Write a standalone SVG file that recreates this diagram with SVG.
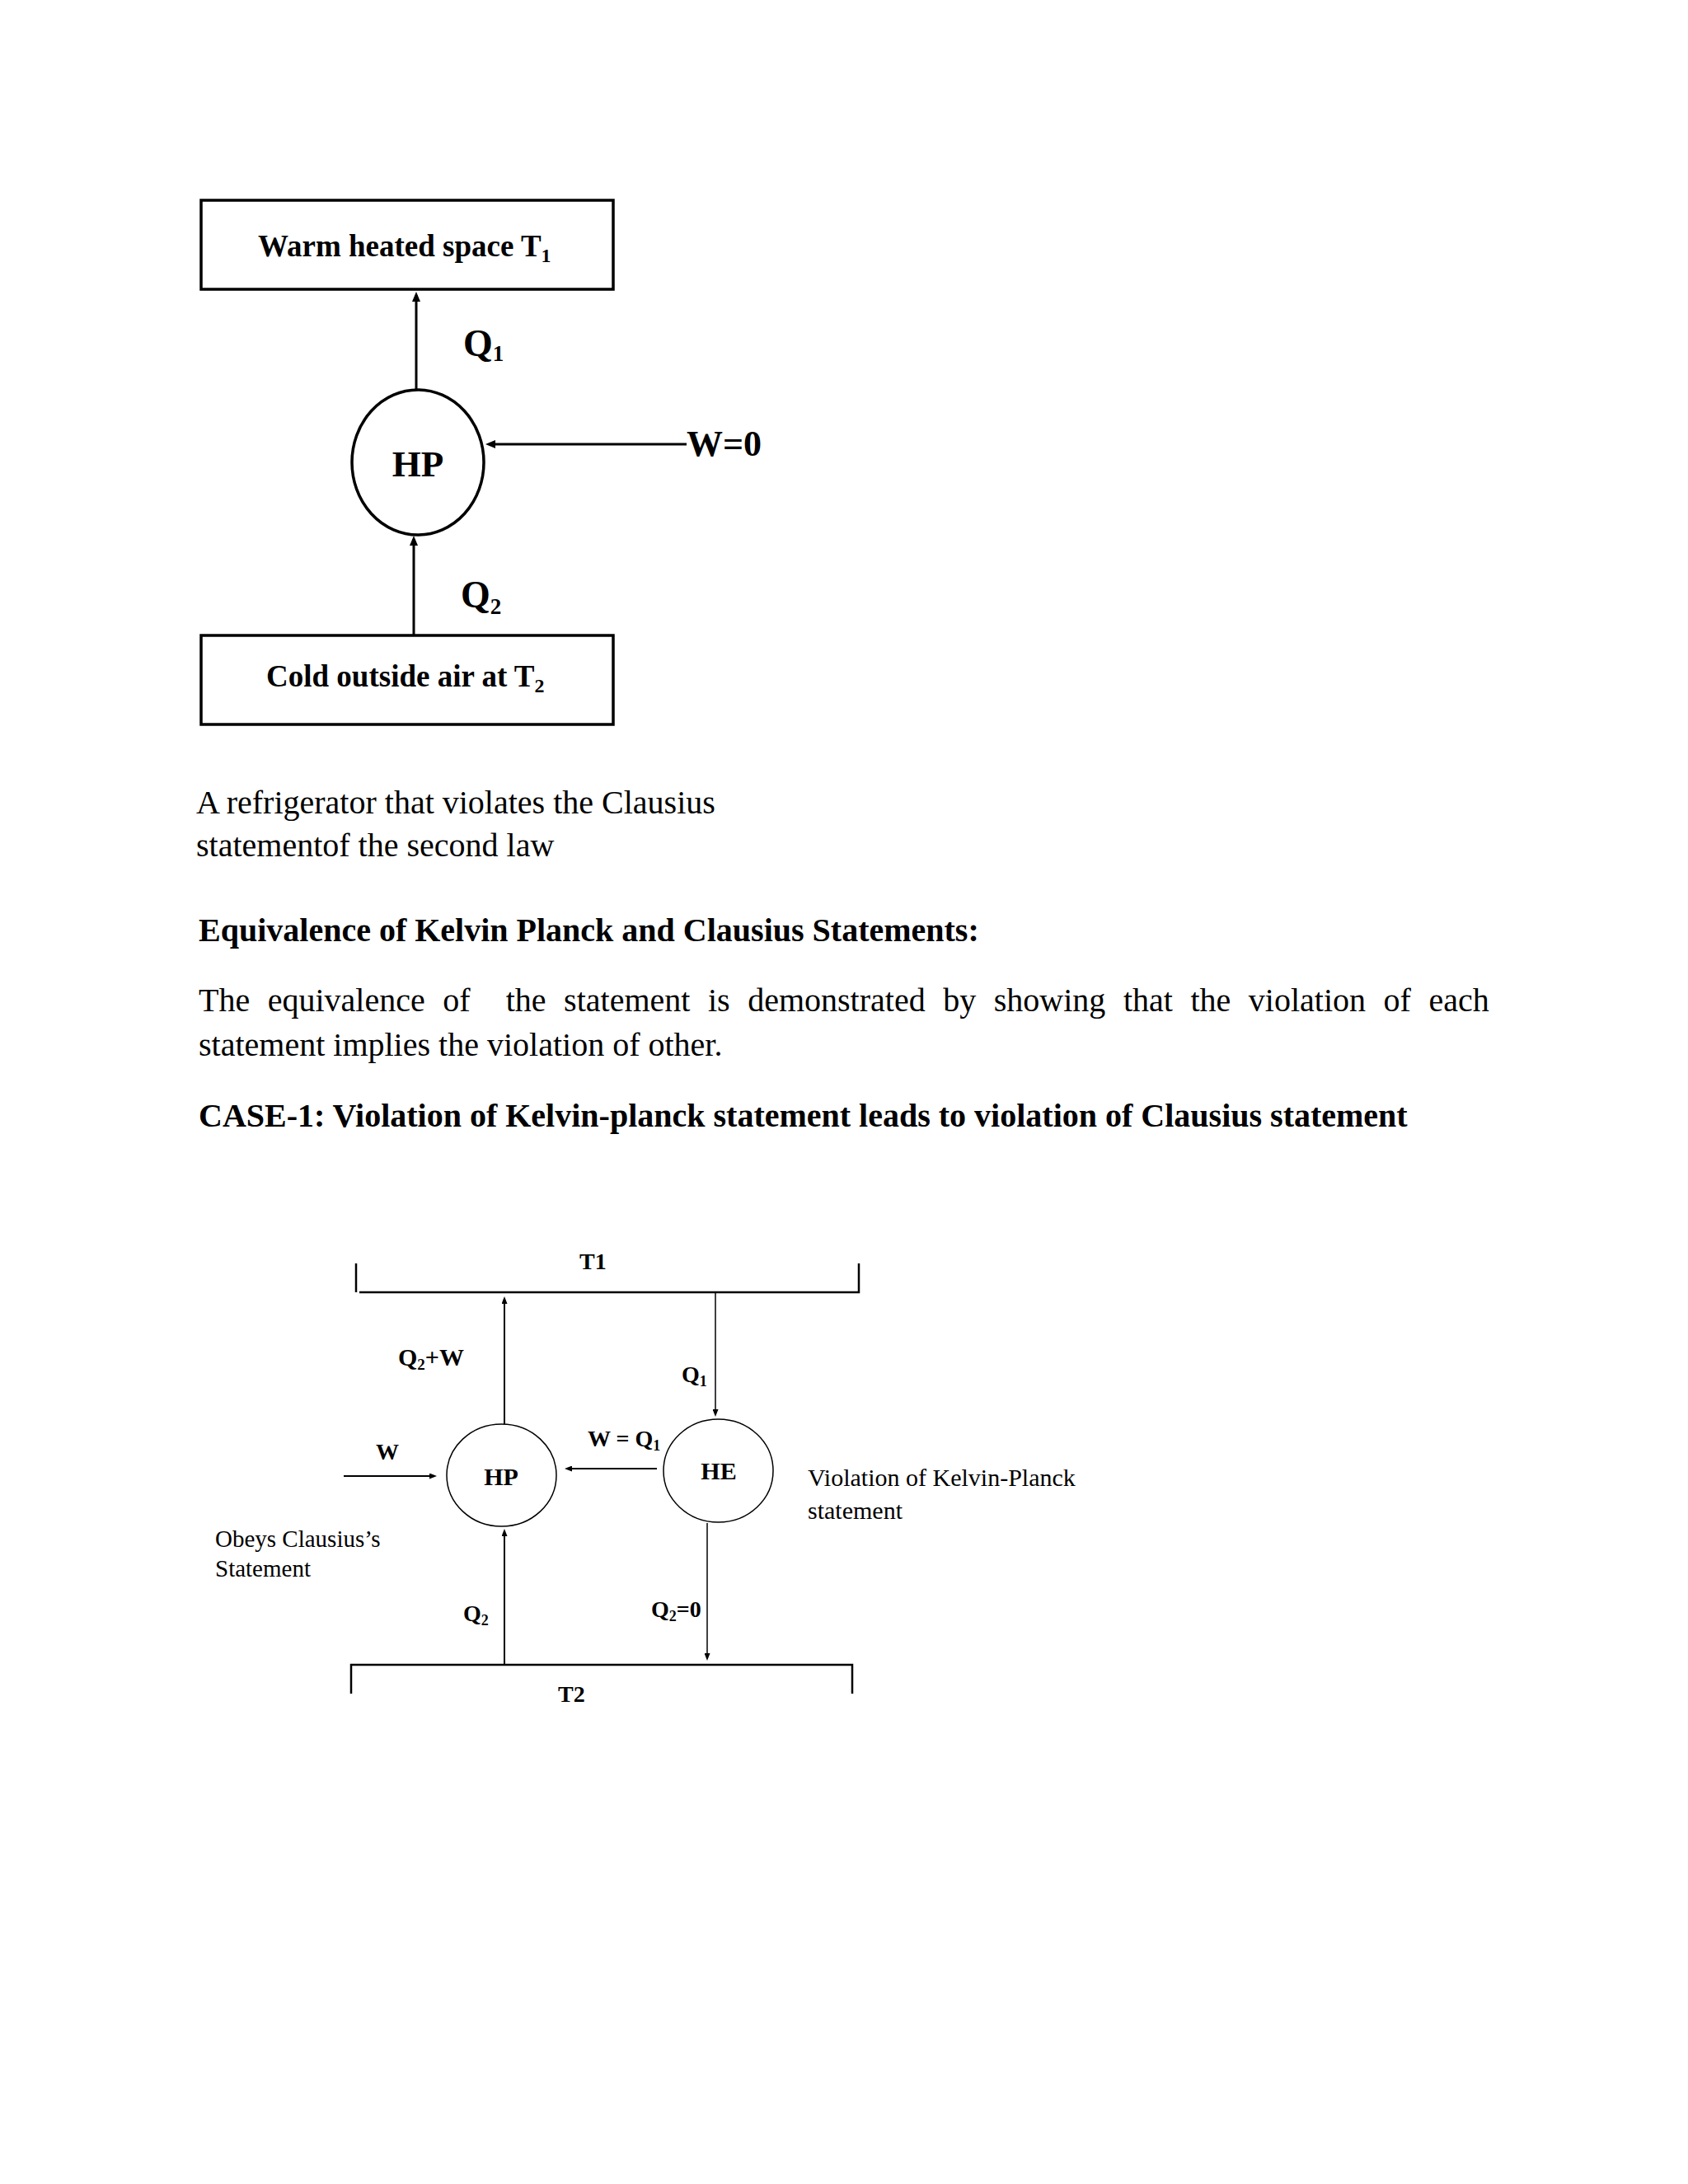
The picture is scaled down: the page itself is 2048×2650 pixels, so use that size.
<svg xmlns="http://www.w3.org/2000/svg" width="2048" height="2650" viewBox="0 0 2048 2650">
<style>
.serif{font-family:"Liberation Serif","Times New Roman",serif;fill:#000}
.b{font-weight:bold}
.body{font-size:40px}
.box{fill:none;stroke:#000;stroke-width:3.5}
.thick{fill:none;stroke:#000;stroke-width:3}
.bar{fill:none;stroke:#000;stroke-width:2.5}
.thin{fill:none;stroke:#000;stroke-width:2}
.hair{fill:none;stroke:#000;stroke-width:1.5}
.lbl{font-size:28px}
</style>
<defs>
<marker id="ahBig" viewBox="0 0 12 10" refX="8" refY="5" markerWidth="12" markerHeight="10" markerUnits="userSpaceOnUse" orient="auto">
<path d="M0,0 L12,5 L0,10 z" fill="#000"/>
</marker>
<marker id="ahSmall" viewBox="0 0 9 7" refX="6" refY="3.5" markerWidth="9" markerHeight="7" markerUnits="userSpaceOnUse" orient="auto">
<path d="M0,0 L9,3.5 L0,7 z" fill="#000"/>
</marker>
</defs>
<rect x="0" y="0" width="2048" height="2650" fill="#fff"/>

<!-- Figure 1 -->
<g id="warm-space">
<rect class="box" x="244" y="243" width="500" height="108"/>
<text class="serif b" x="313" y="311" font-size="37">Warm heated space T<tspan font-size="24" dy="7">1</tspan></text>
</g>
<g id="hp-top">
<ellipse class="box" cx="507" cy="561" rx="80" ry="88" stroke-width="4"/>
<text class="serif b" x="507" y="578" font-size="45" text-anchor="middle">HP</text>
</g>
<g id="cold-air">
<rect class="box" x="244" y="771" width="500" height="108"/>
<text class="serif b" x="323" y="833" font-size="37">Cold outside air at T<tspan font-size="24" dy="7">2</tspan></text>
</g>
<g id="connectors-top">
<line class="thick" x1="505" y1="473" x2="505" y2="358" marker-end="url(#ahBig)"/>
<line class="thick" x1="502" y1="771" x2="502" y2="654" marker-end="url(#ahBig)"/>
<line class="thick" x1="833" y1="539" x2="593" y2="539" marker-end="url(#ahBig)"/>
</g>
<g id="labels-top">
<text class="serif b" x="562" y="432" font-size="46">Q<tspan font-size="27" dy="6">1</tspan></text>
<text class="serif b" x="559" y="737" font-size="46">Q<tspan font-size="27" dy="8">2</tspan></text>
<text class="serif b" x="833" y="553" font-size="44">W=0</text>
</g>

<!-- Body text -->
<g id="caption">
<text class="serif body" x="238" y="987">A refrigerator that violates the Clausius</text>
<text class="serif body" x="238" y="1039">statementof the second law</text>
</g>
<g id="paragraph">
<text class="serif body b" x="241" y="1142">Equivalence of Kelvin Planck and Clausius Statements:</text>
<text class="serif body" x="241" y="1227" word-spacing="11.55" xml:space="preserve">The equivalence of  the statement is demonstrated by showing that the violation of each</text>
<text class="serif body" x="241" y="1281">statement implies the violation of other.</text>
<text class="serif body b" x="241" y="1367">CASE-1: Violation of Kelvin-planck statement leads to violation of Clausius statement</text>
</g>

<!-- Figure 2 -->
<g id="reservoir-T1">
<line class="bar" x1="432" y1="1533" x2="432" y2="1568"/>
<polyline class="bar" points="436,1568 1042,1568 1042,1533"/>
<text class="serif b lbl" x="703" y="1540">T1</text>
</g>
<g id="reservoir-T2">
<polyline class="bar" points="426,2055 426,2020 1034,2020 1034,2055"/>
<text class="serif b lbl" x="677" y="2065">T2</text>
</g>
<g id="hp-bottom">
<ellipse class="hair" cx="608.5" cy="1790" rx="66.5" ry="62"/>
<text class="serif b" x="608" y="1802" font-size="30" text-anchor="middle">HP</text>
</g>
<g id="he">
<ellipse class="hair" cx="871.5" cy="1784.5" rx="66.5" ry="62.5"/>
<text class="serif b" x="872" y="1795" font-size="30" text-anchor="middle">HE</text>
</g>
<g id="connectors-bottom">
<line class="thin" x1="612" y1="1728" x2="612" y2="1576" marker-end="url(#ahSmall)"/>
<line class="thin" x1="612" y1="2020" x2="612" y2="1858" marker-end="url(#ahSmall)"/>
<line class="thin" x1="417" y1="1791" x2="527" y2="1791" marker-end="url(#ahSmall)"/>
<line class="thin" x1="797" y1="1782" x2="688" y2="1782" marker-end="url(#ahSmall)"/>
<line class="hair" x1="868" y1="1568" x2="868" y2="1716" marker-end="url(#ahSmall)"/>
<line class="hair" x1="858" y1="1848" x2="858" y2="2012" marker-end="url(#ahSmall)"/>
</g>
<g id="labels-bottom">
<text class="serif b" x="483" y="1657" font-size="30">Q<tspan font-size="19" dy="5">2</tspan><tspan dy="-5">+W</tspan></text>
<text class="serif b lbl" x="456" y="1771">W</text>
<text class="serif b lbl" x="827" y="1677">Q<tspan font-size="18" dy="5">1</tspan></text>
<text class="serif b lbl" x="713" y="1755">W = Q<tspan font-size="18" dy="5">1</tspan></text>
<text class="serif b lbl" x="562" y="1967">Q<tspan font-size="18" dy="5">2</tspan></text>
<text class="serif b lbl" x="790" y="1962">Q<tspan font-size="18" dy="5">2</tspan><tspan dy="-5">=0</tspan></text>
<text class="serif" x="261" y="1877" font-size="29">Obeys Clausius’s</text>
<text class="serif" x="261" y="1913" font-size="29">Statement</text>
<text class="serif" x="980" y="1803" font-size="30">Violation of Kelvin-Planck</text>
<text class="serif" x="980" y="1843" font-size="30">statement</text>
</g>
</svg>
